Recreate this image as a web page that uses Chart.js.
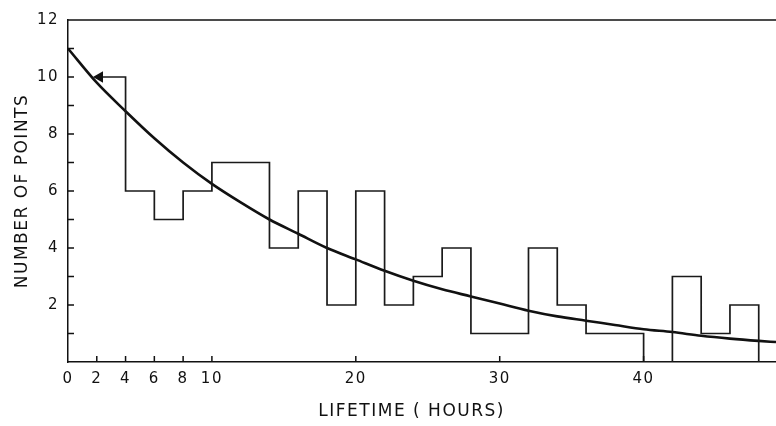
<!DOCTYPE html>
<html>
<head>
<meta charset="utf-8">
<script src="https://cdn.jsdelivr.net/npm/chart.js@4"></script>
<style>
  html, body { margin: 0; padding: 0; background: #fff; overflow: hidden; }
  #wrap { width: 776px; height: 426px; position: relative; }
  canvas { display: block; }
</style>
</head>
<body>
<div id="wrap"><canvas id="c"></canvas></div>
<script>
// histogramme : bords gauches / droits des classes et nombre de points
const binLeft  = [4, 6, 8, 10, 14, 16, 18, 20, 22, 24, 26, 28, 32, 34, 36, 40, 42, 44, 46];
const binRight = [6, 8, 10, 14, 16, 18, 20, 22, 24, 26, 28, 32, 34, 36, 40, 42, 44, 46, 48];
const counts   = [6, 5, 6, 7, 4, 6, 2, 6, 2, 3, 4, 1, 4, 2, 1, 0, 3, 1, 2];
// première classe (flèche vers la gauche)
const firstBin = { from: 2.2, to: 4, value: 10 };

// courbe
const curveX = [0, 2, 4, 6, 8, 10, 12, 14, 16, 18, 20, 22, 24, 26, 28, 30, 32, 34, 36, 38, 40, 42, 44, 46, 48, 49.2];
const curveY = [11, 9.8, 8.8, 7.85, 7.0, 6.25, 5.6, 5.0, 4.5, 4.0, 3.6, 3.2, 2.85, 2.55, 2.3, 2.05, 1.8, 1.6, 1.45, 1.3, 1.15, 1.05, 0.92, 0.82, 0.74, 0.7];

// graduations
const xTicks = [0, 2, 4, 6, 8, 10, 20, 30, 40];
const yTicks = [1, 2, 3, 4, 5, 6, 7, 8, 9, 10, 11, 12];
const yLabels = [2, 4, 6, 8, 10, 12];

// construction des points en escalier
const steps = [{ x: firstBin.from, y: firstBin.value }, { x: firstBin.to, y: firstBin.value }];
for (let i = 0; i < counts.length; i++) {
  steps.push({ x: binLeft[i], y: counts[i] });
  steps.push({ x: binRight[i], y: counts[i] });
}
steps.push({ x: binRight[binRight.length - 1], y: 0 });

const curve = curveX.map((x, i) => ({ x: x, y: curveY[i] }));

// petits traits de graduation vers l'intérieur + bord du haut
const tickPlugin = {
  id: 'ticksIn',
  beforeDraw(chart) {
    chart.ctx.letterSpacing = '1.5px';
  },
  afterDraw(chart) {
    const c = chart.ctx, a = chart.chartArea;
    const sx = chart.scales.x, sy = chart.scales.y;
    c.save();
    c.strokeStyle = '#111';
    c.lineWidth = 1.5;
    c.beginPath();
    c.moveTo(a.left, a.top);
    c.lineTo(a.right, a.top);
    xTicks.forEach(v => {
      if (v === 0) return;
      const px = sx.getPixelForValue(v);
      c.moveTo(px, a.bottom);
      c.lineTo(px, a.bottom - 6);
    });
    yTicks.forEach(v => {
      const py = sy.getPixelForValue(v);
      c.moveTo(a.left, py);
      c.lineTo(a.left + 6, py);
    });
    c.stroke();
    c.restore();
  }
};

const font = { family: 'DejaVu Sans', size: 15 };
const titleFont = { family: 'DejaVu Sans', size: 17 };

new Chart(document.getElementById('c'), {
  type: 'line',
  data: {
    datasets: [
      {
        data: steps,
        borderColor: '#1a1a1a',
        borderWidth: 1.7,
        pointRadius: steps.map((p, i) => i === 0 ? 5 : 0),
        pointStyle: 'triangle',
        rotation: -90,
        pointBackgroundColor: '#111',
        pointBorderColor: '#111',
        tension: 0,
        fill: false
      },
      {
        data: curve,
        borderColor: '#111',
        borderWidth: 2.6,
        pointRadius: 0,
        tension: 0.4,
        cubicInterpolationMode: 'monotone',
        fill: false
      }
    ]
  },
  options: {
    responsive: true,
    maintainAspectRatio: false,
    animation: false,
    layout: { autoPadding: false, padding: { top: 20, right: 0, left: 0, bottom: 0 } },
    plugins: { legend: { display: false }, tooltip: { enabled: false } },
    scales: {
      x: {
        type: 'linear',
        min: 0,
        max: 49.2,
        afterBuildTicks(scale) { scale.ticks = xTicks.map(v => ({ value: v })); },
        afterFit(scale) { scale.height = 64; },
        grid: { display: false, drawTicks: false },
        border: { display: true, color: '#111', width: 1.5 },
        ticks: { color: '#111', font: font, padding: 8, maxRotation: 0, autoSkip: false },
        title: {
          display: true,
          text: 'LIFETIME ( HOURS)   ',
          color: '#111',
          font: titleFont,
          padding: { top: 10, bottom: 4 }
        }
      },
      y: {
        min: 0,
        max: 12,
        afterBuildTicks(scale) { scale.ticks = yLabels.map(v => ({ value: v })); },
        afterFit(scale) { scale.width = 68; },
        grid: { display: false, drawTicks: false },
        border: { display: true, color: '#111', width: 1.5 },
        ticks: { color: '#111', font: font, padding: 9 },
        title: {
          display: true,
          text: 'NUMBER OF POINTS',
          color: '#111',
          font: titleFont,
          padding: { top: 12, bottom: 0 }
        }
      }
    }
  },
  plugins: [tickPlugin]
});
</script>
</body>
</html>
